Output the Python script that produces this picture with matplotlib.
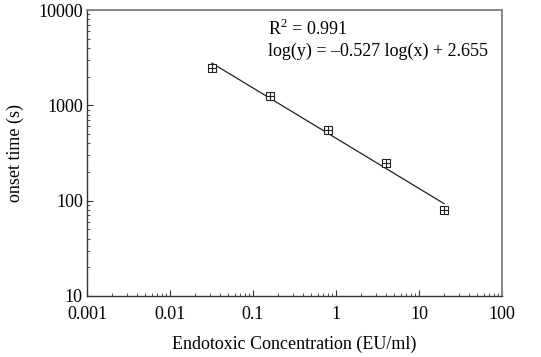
import numpy as np
import matplotlib.pyplot as plt
from matplotlib.ticker import FuncFormatter, LogLocator

plt.rcParams['font.family'] = ['Liberation Serif', 'DejaVu Serif']
plt.rcParams['mathtext.fontset'] = 'custom'
plt.rcParams['mathtext.rm'] = 'Liberation Serif'

# Measured data
conc = [0.032, 0.16, 0.8, 4.0, 20.0]
onset = [2490, 1240, 550, 250, 80]

# Fit coefficients from the annotation
slope, intercept = -0.527, 2.655
r2 = 0.991

fig = plt.figure(figsize=(5.41, 3.57), dpi=100)
ax = fig.add_axes([87 / 541, 1 - 296 / 357, 415 / 541, 286 / 357])

# Regression line over the data range
xf = np.array([conc[0], conc[-1]])
yf = 10 ** (slope * np.log10(xf) + intercept)
ax.plot(xf, yf, color='#222222', lw=0.9)

# Square-with-cross markers
ax.plot(conc, onset, ls='none', marker='s', ms=5.5, mfc='white', mec='#222222', mew=0.8)
ax.plot(conc, onset, ls='none', marker='+', ms=5.5, mec='#222222', mew=0.8)

ax.set_xscale('log')
ax.set_yscale('log')
ax.set_xlim(0.001, 100)
ax.set_ylim(10, 10000)

fmt = FuncFormatter(lambda v, p: '%g' % v)
ax.xaxis.set_major_formatter(fmt)
ax.yaxis.set_major_formatter(fmt)
ax.xaxis.set_minor_locator(LogLocator(subs=np.arange(2, 10)))
ax.yaxis.set_minor_locator(LogLocator(subs=np.arange(2, 10)))
ax.xaxis.set_minor_formatter(plt.NullFormatter())
ax.yaxis.set_minor_formatter(plt.NullFormatter())
ax.tick_params(which='both', direction='in', top=False, right=False, labelsize=13,
               color='#333333')
ax.tick_params(axis='x', pad=7)
ax.tick_params(axis='y', pad=3)
ax.tick_params(which='major', length=4)
ax.tick_params(which='minor', length=2.5)

for side in ['left', 'bottom']:
    ax.spines[side].set_color('#333333')
    ax.spines[side].set_linewidth(1.0)
for side in ['top', 'right']:
    ax.spines[side].set_color('#888888')
    ax.spines[side].set_linewidth(1.4)

ax.set_xlabel('Endotoxic Concentration (EU/ml)', fontsize=13, labelpad=9)
ax.set_ylabel('onset time (s)', fontsize=13, labelpad=10)

ax.text(0.436, 0.935, 'R$^2$ = %.3f' % r2, transform=ax.transAxes, fontsize=13,
        va='center', ha='left')
ax.text(0.436, 0.855, 'log(y) = \u2013%.3f log(x) + %.3f' % (-slope, intercept),
        transform=ax.transAxes, fontsize=13, va='center', ha='left')

fig.savefig('out.png', dpi=100)
